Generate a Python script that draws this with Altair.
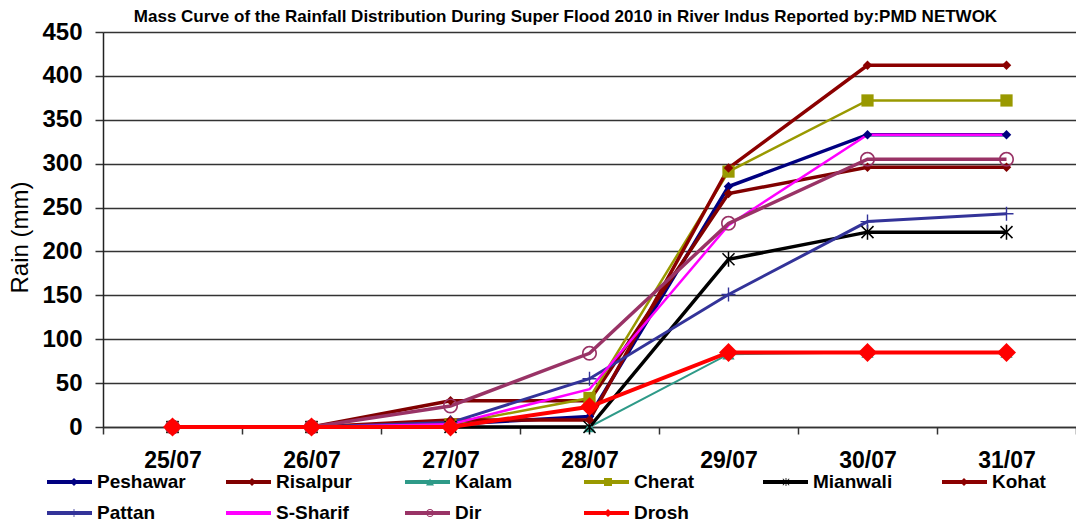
import altair as alt
import pandas as pd

dates = ["25/07", "26/07", "27/07", "28/07", "29/07", "30/07", "31/07"]
stations = ["Peshawar", "Risalpur", "Kalam", "Cherat", "Mianwali", "Kohat",
            "Pattan", "S-Sharif", "Dir", "Drosh"]

peshawar = [0, 0, 3, 12, 274, 333, 333]
risalpur = [0, 0, 30, 30, 266, 296, 296]
kalam = [0, 0, 0, 0, 83, 85, 85]
cherat = [0, 0, 3, 33, 291, 372, 372]
mianwali = [0, 0, 0, 0, 191, 222, 222]
kohat = [0, 0, 8, 8, 295, 412, 412]
pattan = [0, 0, 5, 55, 151, 234, 243]
s_sharif = [0, 0, 3, 43, 230, 333, 333]
dir_ = [0, 0, 24, 84, 232, 305, 305]
drosh = [0, 0, 0, 23, 85, 85, 85]
series = [peshawar, risalpur, kalam, cherat, mianwali, kohat, pattan, s_sharif, dir_, drosh]

y_ticks = [0, 50, 100, 150, 200, 250, 300, 350, 400, 450]

line_colors = ["#000080", "#800000", "#2E9A88", "#999900", "#000000", "#8B0000",
               "#333399", "#FF00FF", "#993366", "#FF0000"]
line_widths = [3.5, 3.5, 2, 2.5, 3.5, 3.5, 3, 2.5, 3.5, 4]

# marker shapes (paths in unit square)
asterisk = ("M-0.1,-1L0.1,-1L0.1,1L-0.1,1Z"
            "M-0.73,-0.87L0.87,0.73L0.73,0.87L-0.87,-0.73Z"
            "M0.73,-0.87L0.87,-0.73L-0.73,0.87L-0.87,0.73Z")
plus = "M-0.1,-1L0.1,-1L0.1,1L-0.1,1ZM-1,-0.1L1,-0.1L1,0.1L-1,0.1Z"
ring = ("M-1,0A1,1 0 1,1 1,0A1,1 0 1,1 -1,0Z"
        "M-0.78,0A0.78,0.78 0 1,0 0.78,0A0.78,0.78 0 1,0 -0.78,0Z")
nothing = "M0,0Z"
shapes = ["diamond", "diamond", "triangle-up", "square", asterisk, "diamond",
          plus, nothing, ring, "diamond"]
marker_colors = ["#000080", "#800000", "#2E9A88", "#999900", "#000000", "#8B0000",
                 "#333399", "#FF00FF", "#993366", "#FF0000"]
marker_sizes = [90, 90, 150, 150, 225, 90, 196, 1, 225, 361]

rows = []
for st, vals in zip(stations, series):
    for d, v in zip(dates, vals):
        rows.append({"Date": d, "Station": st, "Name": st, "Rain": v})
df = pd.DataFrame(rows)

FONT = "Liberation Sans, Arial, sans-serif"

x_enc = alt.X(
    "Date:O", sort=dates,
    scale=alt.Scale(type="band", paddingInner=0, paddingOuter=0),
    axis=alt.Axis(title=None, labelAngle=0, labelFont=FONT, labelFontSize=23,
                  labelFontWeight="bold", labelColor="#000", labelPadding=15,
                  tickBand="extent", tickSize=7, tickColor="#333", tickWidth=1.5,
                  domain=True, domainColor="#333", domainWidth=1.5, grid=False),
)
y_enc = alt.Y(
    "Rain:Q",
    scale=alt.Scale(domain=[0, 450], nice=False),
    axis=alt.Axis(values=y_ticks, title="Rain (mm)", titleFont=FONT, titleFontSize=24,
                  titleFontWeight="normal", titleColor="#000", titleX=-83, titleY=205,
                  titleAngle=-90, titleBaseline="middle", titleAlign="center",
                  labelFont=FONT, labelFontSize=24, labelFontWeight="bold",
                  labelColor="#000", labelPadding=13, tickSize=8, tickColor="#333",
                  tickWidth=1.5, domainColor="#222", domainWidth=1.5,
                  grid=True, gridColor="#333", gridWidth=1.5),
)

common_legend = dict(title=None, orient="none", legendX=-58, legendY=434.5, columns=6,
                     direction="horizontal", gridAlign="all",
                     rowPadding=0, padding=0, clipHeight=31, labelFont=FONT,
                     labelFontSize=19, labelFontWeight="bold", labelLimit=300)

line_legend = alt.Legend(symbolType="stroke", symbolSize=2025, symbolStrokeWidth=4,
                         labelOffset=3, labelColor="#000", columnPadding=38,
                         **common_legend)
mark_legend = alt.Legend(symbolSize=64, symbolOffset=19.5, labelOffset=12,
                         labelExpr="''", columnPadding=127, symbolOpacity=1,
                         **common_legend)

lines = alt.Chart(df).mark_line().encode(
    x=x_enc, y=y_enc,
    stroke=alt.Stroke("Station:N", sort=stations,
                      scale=alt.Scale(range=line_colors),
                      legend=line_legend),
    strokeWidth=alt.StrokeWidth("Station:N", sort=stations,
                                scale=alt.Scale(type="ordinal", range=line_widths),
                                legend=None),
)

points = alt.Chart(df).mark_point(filled=True, opacity=1).encode(
    x=x_enc, y=y_enc,
    fill=alt.Fill("Name:N", scale=alt.Scale(domain=stations, range=marker_colors),
                  legend=mark_legend),
    shape=alt.Shape("Name:N", scale=alt.Scale(domain=stations, range=shapes),
                    legend=mark_legend),
    size=alt.Size("Name:N", sort=stations,
                  scale=alt.Scale(type="ordinal", range=marker_sizes),
                  legend=None),
)

chart = alt.layer(lines, points).properties(
    width=973, height=395,
    title=alt.TitleParams(
        "Mass Curve of the Rainfall Distribution During Super Flood 2010 in River Indus Reported by:PMD NETWOK",
        font=FONT, fontSize=17, fontWeight="bold", color="#000", anchor="middle",
        dx=-24, dy=15, offset=9),
    autosize=alt.AutoSizeParams(type="none"),
    padding={"left": 103, "top": 32, "right": 0, "bottom": 97},
).configure_view(stroke=None).configure(background="white")

chart.save("out.html", embed_options={"renderer": "svg", "actions": False})
